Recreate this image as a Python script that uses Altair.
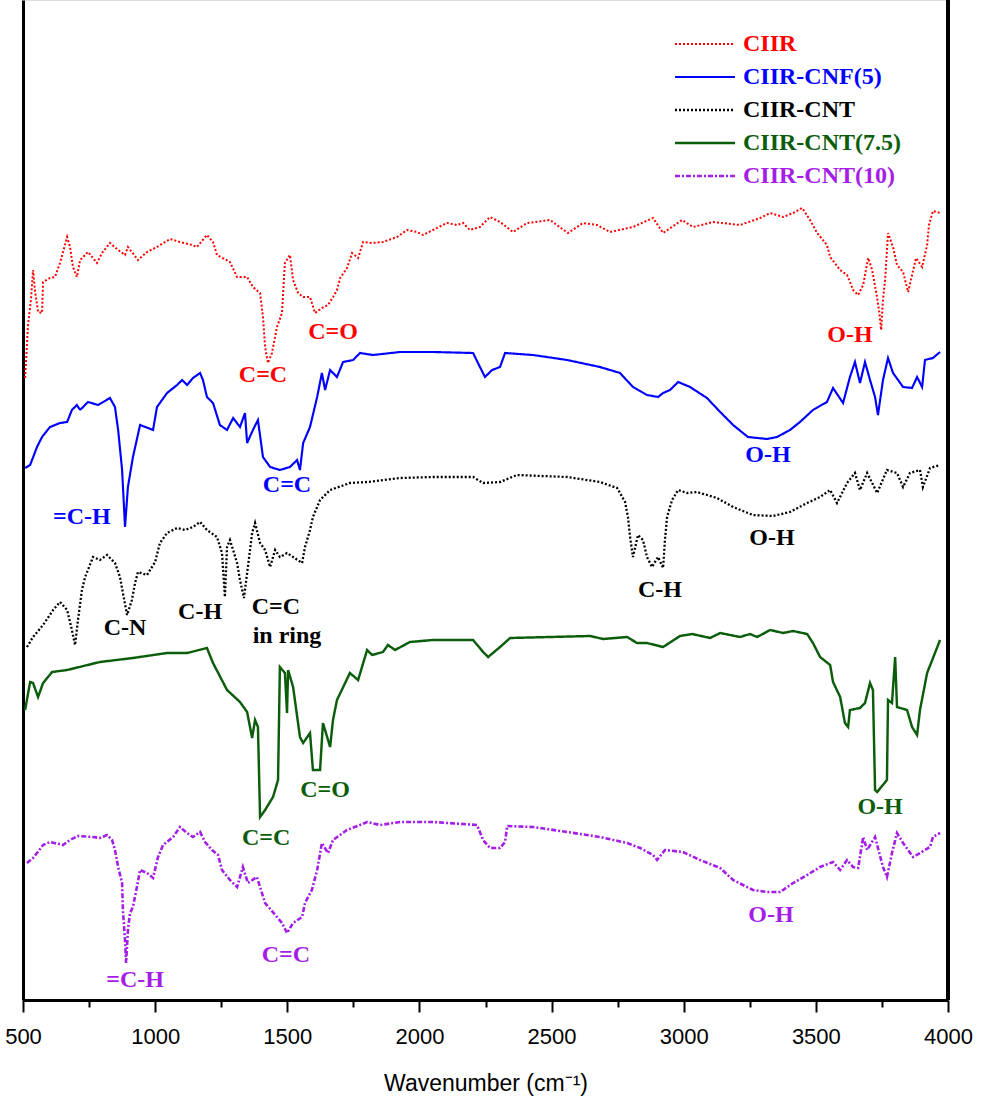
import altair as alt
import pandas as pd

# Series names, colours and line styles
SERIES = ["CIIR", "CIIR-CNF(5)", "CIIR-CNT", "CIIR-CNT(7.5)", "CIIR-CNT(10)"]
COLORS = ["#ff0000", "#0000ff", "#000000", "#0b5d0b", "#a51ee8"]
DASHES = [[2, 2], [1, 0], [2, 2], [1, 0], [5, 2, 2, 2]]
WIDTHS = [2.0, 2.6, 2.0, 2.2, 2.0]

# FTIR spectra, stacked with offsets (transmittance, a.u.)
ciir_wn = [508, 519, 530, 538, 545, 557, 572, 576, 602, 621, 640, 667, 678, 689, 704, 716, 746, 780, 799, 829,
           860, 886, 897, 935, 969, 1007, 1056, 1094, 1140, 1158, 1196, 1219, 1234, 1283, 1310, 1348, 1370, 1397,
           1408, 1416, 1427, 1442, 1461, 1480, 1491, 1510, 1522, 1541, 1560, 1586, 1605, 1631, 1654, 1673, 1688,
           1700, 1726, 1745, 1768, 1787, 1821, 1862, 1915, 1953, 1991, 2014, 2051, 2104, 2142, 2165, 2191, 2229,
           2267, 2305, 2354, 2407, 2494, 2562, 2619, 2672, 2721, 2808, 2884, 2922, 2994, 3035, 3111, 3213, 3289,
           3327, 3376, 3414, 3448, 3478, 3505, 3542, 3554, 3592, 3618, 3641, 3660, 3679, 3698, 3713, 3728, 3739,
           3747, 3754, 3762, 3773, 3792, 3807, 3830, 3849, 3864, 3879, 3902, 3921, 3928, 3943, 3970]
ciir_t = [62.2, 67.5, 70.0, 73.0, 71.0, 68.8, 68.7, 71.8, 72.2, 72.3, 73.7, 76.3, 75.3, 73.3, 72.3, 74.0, 74.8,
          73.7, 74.7, 75.7, 75.0, 74.5, 75.3, 74.0, 74.8, 75.3, 76.1, 75.8, 75.5, 75.3, 76.5, 75.8, 74.5, 73.8,
          72.3, 72.3, 71.3, 70.7, 68.3, 65.3, 63.7, 64.7, 67.3, 68.7, 73.7, 74.5, 72.0, 70.7, 70.3, 70.3, 68.7,
          69.2, 69.5, 70.3, 71.0, 72.2, 73.2, 74.7, 74.2, 75.8, 75.7, 75.8, 76.3, 77.0, 76.8, 76.5, 77.0, 77.7,
          77.5, 77.7, 77.0, 77.3, 78.3, 77.8, 76.8, 77.7, 78.0, 76.7, 77.7, 77.5, 76.8, 77.3, 78.2, 76.7, 78.0,
          77.3, 77.8, 77.5, 78.2, 78.7, 78.3, 78.7, 79.2, 78.0, 76.7, 75.5, 74.3, 73.0, 72.5, 71.0, 70.5, 71.5,
          74.2, 73.0, 70.8, 69.0, 67.0, 70.0, 72.0, 76.7, 75.3, 73.5, 72.8, 70.8, 72.5, 74.2, 73.3, 75.5, 77.5,
          78.9, 78.7]

cnf5_wn = [508, 527, 553, 572, 602, 640, 667, 685, 704, 716, 746, 784, 829, 848, 860, 875, 886, 897, 916, 943,
           973, 992, 1007, 1045, 1083, 1102, 1121, 1143, 1170, 1181, 1196, 1219, 1245, 1272, 1295, 1321, 1340,
           1348, 1370, 1389, 1408, 1435, 1472, 1510, 1537, 1548, 1560, 1586, 1613, 1631, 1643, 1662, 1688, 1711,
           1749, 1775, 1824, 1927, 2051, 2203, 2229, 2248, 2275, 2305, 2324, 2430, 2559, 2683, 2759, 2808, 2861,
           2903, 2922, 2948, 2979, 3024, 3088, 3138, 3187, 3243, 3315, 3353, 3402, 3440, 3489, 3542, 3565, 3603,
           3629, 3648, 3667, 3686, 3705, 3724, 3735, 3754, 3773, 3792, 3830, 3864, 3883, 3902, 3913, 3943, 3970]
cnf5_t = [53.2, 53.5, 55.3, 56.3, 57.3, 57.7, 57.8, 59.0, 59.5, 59.0, 59.8, 59.5, 60.2, 59.3, 57.0, 53.0, 47.3,
          51.3, 54.3, 57.5, 57.2, 57.0, 59.3, 60.7, 61.5, 62.0, 61.5, 62.2, 62.7, 62.0, 60.3, 59.7, 57.5, 57.0,
          58.2, 57.3, 58.7, 55.7, 57.0, 58.0, 54.3, 53.3, 53.0, 53.3, 54.0, 53.0, 55.7, 57.3, 60.3, 62.7, 61.0,
          63.0, 62.3, 63.8, 64.0, 64.7, 64.5, 64.8, 64.8, 64.7, 63.3, 62.3, 63.0, 63.3, 64.7, 64.5, 64.0, 63.3,
          62.7, 61.3, 60.5, 60.3, 60.7, 61.0, 61.8, 61.3, 60.2, 58.8, 57.5, 56.3, 56.1, 56.3, 57.0, 57.8, 59.0,
          59.8, 61.2, 59.7, 62.3, 63.8, 61.7, 63.8, 62.0, 60.3, 58.5, 62.0, 64.2, 62.7, 61.3, 61.2, 62.3, 61.3,
          64.0, 64.2, 64.8]

cnt_wn = [515, 538, 576, 614, 640, 667, 685, 697, 708, 723, 735, 765, 791, 818, 848, 867, 878, 894, 912, 924,
          935, 969, 1000, 1018, 1045, 1083, 1113, 1143, 1170, 1196, 1234, 1253, 1264, 1272, 1283, 1295, 1310,
          1321, 1336, 1351, 1367, 1378, 1397, 1416, 1435, 1454, 1472, 1499, 1522, 1556, 1567, 1586, 1597, 1624,
          1662, 1737, 1802, 1927, 2051, 2203, 2241, 2305, 2369, 2559, 2683, 2748, 2778, 2789, 2797, 2808, 2827,
          2846, 2861, 2880, 2903, 2922, 2929, 2937, 2956, 2979, 3013, 3050, 3126, 3187, 3262, 3338, 3402, 3467,
          3516, 3554, 3580, 3618, 3648, 3667, 3694, 3732, 3769, 3807, 3830, 3856, 3894, 3905, 3932, 3970]
cnt_t = [35.3, 36.3, 37.5, 39.0, 39.8, 39.0, 37.0, 35.5, 38.0, 41.0, 42.3, 44.3, 44.0, 44.5, 43.7, 42.3, 40.7,
         38.5, 40.0, 41.7, 42.8, 42.5, 43.8, 45.7, 46.7, 47.2, 47.0, 47.3, 47.8, 47.0, 46.3, 44.7, 40.3, 45.3,
         46.0, 45.0, 43.7, 42.0, 40.2, 43.3, 46.7, 47.7, 45.7, 45.0, 43.3, 45.0, 44.3, 44.7, 44.3, 43.7, 45.3,
         47.0, 48.3, 50.0, 51.0, 51.7, 51.8, 52.2, 52.3, 52.3, 51.7, 51.8, 52.5, 52.3, 51.8, 51.2, 49.8, 48.3,
         46.3, 44.3, 46.5, 46.0, 44.3, 43.3, 44.3, 43.2, 46.0, 48.3, 50.0, 51.0, 50.7, 50.8, 50.2, 49.3, 48.5,
         48.4, 48.8, 49.7, 50.3, 51.0, 49.7, 51.7, 52.7, 51.0, 52.7, 50.7, 53.0, 52.7, 51.3, 52.7, 53.0, 51.3,
         53.2, 53.5]

cnt75_wn = [508, 527, 538, 557, 576, 610, 667, 791, 916, 1045, 1121, 1196, 1219, 1272, 1321, 1348, 1367, 1378,
            1389, 1397, 1416, 1446, 1465, 1472, 1491, 1499, 1503, 1522, 1548, 1560, 1586, 1597, 1624, 1635, 1662,
            1673, 1688, 1737, 1768, 1802, 1821, 1862, 1881, 1908, 1964, 2051, 2203, 2241, 2260, 2305, 2343, 2494,
            2646, 2695, 2786, 2823, 2861, 2922, 2986, 3032, 3100, 3138, 3213, 3251, 3278, 3327, 3376, 3414, 3467,
            3489, 3516, 3554, 3565, 3592, 3610, 3622, 3629, 3667, 3686, 3705, 3716, 3724, 3732, 3769, 3773, 3788,
            3800, 3807, 3845, 3864, 3883, 3894, 3921, 3970]
cnt75_t = [29.0, 31.8, 31.7, 30.3, 31.7, 32.8, 33.0, 33.8, 34.2, 34.7, 34.7, 35.2, 33.7, 31.0, 29.8, 28.8, 26.2,
           28.0, 27.3, 18.3, 19.0, 20.3, 22.0, 33.3, 32.7, 28.7, 33.0, 31.3, 26.3, 25.7, 26.7, 23.0, 23.0, 27.7,
           25.3, 28.0, 30.0, 32.7, 32.0, 35.0, 34.5, 34.8, 35.5, 35.0, 35.8, 36.0, 36.0, 34.8, 34.3, 35.3, 36.2,
           36.3, 36.4, 36.1, 36.3, 35.7, 35.7, 35.3, 36.4, 36.6, 36.2, 36.7, 36.3, 36.6, 36.3, 37.0, 36.7, 36.9,
           36.6, 35.7, 34.3, 33.5, 31.8, 30.3, 27.7, 27.3, 29.0, 29.2, 29.7, 31.7, 31.0, 21.0, 20.8, 22.0, 30.0,
           29.7, 34.3, 29.3, 29.0, 27.3, 26.5, 29.0, 32.7, 36.0]

cnt10_wn = [515, 538, 553, 576, 602, 651, 678, 708, 765, 791, 818, 837, 848, 860, 875, 878, 886, 890, 897, 905,
            916, 931, 943, 969, 992, 1011, 1030, 1068, 1094, 1121, 1143, 1170, 1189, 1215, 1238, 1253, 1283, 1310,
            1332, 1351, 1385, 1397, 1416, 1461, 1480, 1499, 1522, 1556, 1567, 1593, 1613, 1631, 1654, 1673, 1726,
            1775, 1802, 1851, 1927, 2051, 2218, 2241, 2267, 2305, 2324, 2332, 2430, 2559, 2683, 2786, 2835, 2884,
            2899, 2929, 2997, 3062, 3138, 3187, 3262, 3315, 3365, 3414, 3467, 3516, 3565, 3592, 3618, 3641, 3660,
            3679, 3694, 3724, 3754, 3769, 3788, 3807, 3830, 3868, 3894, 3932, 3943, 3970]
cnt10_t = [13.7, 14.2, 14.7, 15.5, 15.8, 15.5, 16.0, 16.4, 16.3, 16.2, 16.5, 16.0, 15.0, 13.3, 11.7, 9.0, 6.0,
           3.7, 7.0, 8.7, 9.3, 11.3, 13.0, 12.7, 12.2, 14.3, 15.5, 16.3, 17.3, 16.7, 16.3, 16.8, 15.8, 15.0,
           14.5, 13.0, 12.0, 11.3, 13.3, 11.7, 12.3, 11.3, 9.7, 8.3, 7.7, 6.7, 7.7, 8.3, 9.7, 11.0, 13.0, 15.7,
           14.7, 16.0, 17.0, 17.5, 17.8, 17.5, 17.8, 17.8, 17.5, 16.0, 15.2, 15.2, 15.8, 17.4, 17.3, 16.8, 16.3,
           15.7, 15.2, 14.5, 14.0, 15.0, 14.8, 14.0, 13.2, 12.0, 11.0, 10.8, 10.8, 11.7, 12.5, 13.3, 13.8, 13.0,
           14.0, 13.3, 13.2, 16.3, 15.0, 16.3, 13.3, 12.3, 14.7, 16.7, 15.7, 14.3, 14.7, 15.3, 16.3, 16.7]

# Band assignments
ann_series = ["CIIR", "CIIR", "CIIR",
              "CIIR-CNF(5)", "CIIR-CNF(5)", "CIIR-CNF(5)",
              "CIIR-CNT", "CIIR-CNT", "CIIR-CNT", "CIIR-CNT", "CIIR-CNT", "CIIR-CNT",
              "CIIR-CNT(7.5)", "CIIR-CNT(7.5)", "CIIR-CNT(7.5)",
              "CIIR-CNT(10)", "CIIR-CNT(10)", "CIIR-CNT(10)"]
ann_text = ["C=C", "C=O", "O-H",
            "=C-H", "C=C", "O-H",
            "C-N", "C-H", "C=C", "in ring", "C-H", "O-H",
            "C=O", "C=C", "O-H",
            "=C-H", "C=C", "O-H"]
ann_wn = [1408, 1673, 3629,
          723, 1499, 3319,
          886, 1170, 1457, 1499, 2910, 3334,
          1643, 1420, 3743,
          924, 1495, 3330]
ann_t = [62.5, 66.8, 66.5,
         48.3, 51.5, 54.5,
         37.2, 38.8, 39.3, 36.4, 41.0, 46.2,
         21.0, 16.2, 19.3,
         2.0, 4.5, 8.5]

spectra = [(ciir_wn, ciir_t), (cnf5_wn, cnf5_t), (cnt_wn, cnt_t), (cnt75_wn, cnt75_t), (cnt10_wn, cnt10_t)]
rows = []
for name, (wns, ts) in zip(SERIES, spectra):
    for i, (w, t) in enumerate(zip(wns, ts)):
        rows.append({"series": name, "wn": w, "t": t, "idx": i})
df = pd.DataFrame(rows)
ann = pd.DataFrame({"series": ann_series, "text": ann_text, "wn": ann_wn, "t": ann_t})

AXIS_FONT = "Liberation Sans, Arial, sans-serif"
SERIF = "Liberation Serif, Times New Roman, serif"

x_scale = alt.Scale(domain=[500, 4000], nice=False, zero=False)
y_scale = alt.Scale(domain=[0, 100], nice=False, zero=False)

label_color_expr = " : ".join(
    f"datum.value === '{s}' ? '{c}'" for s, c in zip(SERIES, COLORS)
) + " : 'black'"

# Wide line-sample symbol with a compact row height
legend = alt.Legend(
    orient="none", legendX=670, legendY=32, title=None,
    symbolType="M-3,0H3", symbolSize=400, symbolStrokeWidth=3,
    labelFont=SERIF, labelFontSize=24, labelFontWeight="bold",
    labelColor={"expr": label_color_expr}, labelOffset=26, labelLimit=0,
    rowPadding=9,
)

x_axis = alt.Axis(
    title="Wavenumber (cm⁻¹)", values=list(range(500, 4001, 250)), format="d",
    labelExpr="datum.value % 500 === 0 ? datum.label : ''",
    tickSize={"condition": {"test": "datum.value % 500 === 0", "value": 12}, "value": 7},
    tickWidth=2, tickColor="black", domainColor="black", domainWidth=3,
    labelFont=AXIS_FONT, labelFontSize=22, labelColor="black", labelPadding=14,
    labelFlush=False, labelOverlap=False,
    titleFont=AXIS_FONT, titleFontSize=23, titleFontWeight="normal", titleColor="black", titlePadding=25,
    grid=False,
)
y_axis = alt.Axis(title=None, labels=False, ticks=False, grid=False, domainColor="black", domainWidth=3)

lines = alt.Chart(df).mark_line(strokeJoin="miter", clip=True).encode(
    x=alt.X("wn:Q", scale=x_scale, axis=x_axis),
    y=alt.Y("t:Q", scale=y_scale, axis=y_axis),
    color=alt.Color("series:N", scale=alt.Scale(domain=SERIES, range=COLORS), legend=legend),
    strokeDash=alt.StrokeDash("series:N", scale=alt.Scale(domain=SERIES, range=DASHES), legend=legend),
    strokeWidth=alt.StrokeWidth("series:N", scale=alt.Scale(domain=SERIES, range=WIDTHS), legend=None),
    order=alt.Order("idx:Q"),
)

right_frame = alt.Chart(df).mark_rule(color="black", strokeWidth=3).encode(x=alt.datum(4000))

labels = [
    alt.Chart(ann[ann["series"] == s]).mark_text(
        font=SERIF, fontSize=24, fontWeight="bold", color=c, align="center", baseline="middle"
    ).encode(x=alt.X("wn:Q", scale=x_scale), y=alt.Y("t:Q", scale=y_scale), text="text:N")
    for s, c in zip(SERIES, COLORS)
]

chart = alt.layer(lines, right_frame, *labels).properties(
    width=925, height=1000,
    padding={"left": 23, "top": 0, "right": 39, "bottom": 104},
    autosize=alt.AutoSizeParams(type="none"),
).configure_view(stroke=None).configure(background="white")

chart.save("out.html", embed_options={"renderer": "svg", "actions": False})
